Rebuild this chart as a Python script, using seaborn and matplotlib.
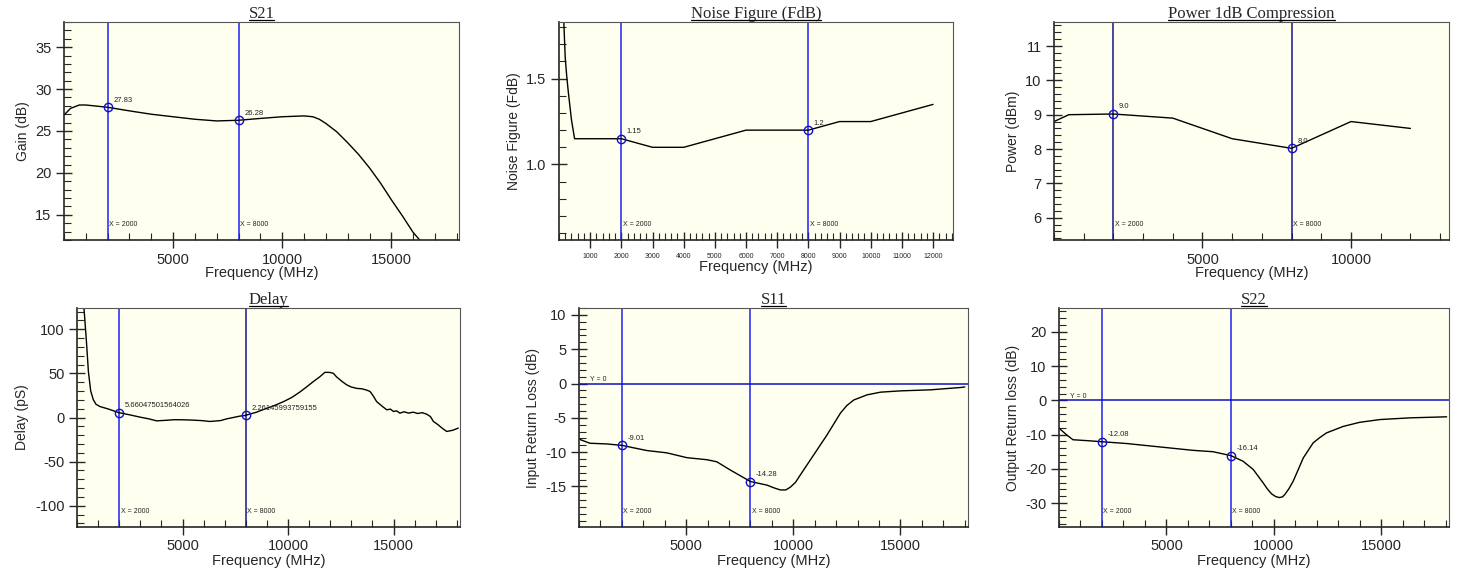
import numpy as np
import pandas as pd
import seaborn as sns
import matplotlib.pyplot as plt
from matplotlib.lines import Line2D
from matplotlib.ticker import MultipleLocator, FixedLocator

OUT_PATH = 'out.png'

# --- S21 gain (dB) ---
s21_freq = [0, 300, 700, 1000, 2000, 3000, 4000, 5000, 6000, 7000, 8000, 9000,
            10000, 11000, 11400, 11700, 12000, 12500, 13000, 13500, 14000, 14500, 15000,
            15500, 16000, 16300]
s21_gain = [26.9, 27.7, 28.1, 28.1, 27.83, 27.4, 27.0, 26.7, 26.4, 26.2, 26.28, 26.5,
            26.7, 26.8, 26.7, 26.4, 25.9, 24.9, 23.6, 22.2, 20.6, 18.8, 16.8,
            14.9, 12.9, 12.0]

# --- Noise figure (FdB) ---
nf_freq = [100, 150, 200, 250, 300, 400, 500, 2000, 3000, 4000, 5000, 6000, 7000,
           8000, 9000, 10000, 11000, 12000]
nf_val = [2.3, 1.85, 1.62, 1.51, 1.42, 1.26, 1.15, 1.15, 1.10, 1.10, 1.15, 1.20, 1.20,
          1.20, 1.25, 1.25, 1.30, 1.35]

# --- Power 1dB compression (dBm) ---
p1_freq = [0, 500, 2000, 4000, 6000, 8000, 10000, 12000]
p1_val = [8.8, 9.0, 9.02, 8.9, 8.3, 8.02, 8.8, 8.6]

# --- Group delay (pS) ---
dl_freq = [330, 450, 540, 650, 775, 900, 1090, 1500, 1960, 2500, 2990, 3400, 3775, 4200,
           4600, 5040, 5500, 5900, 6300, 6800, 7100, 7410, 7700, 7960, 8500, 9000,
           9400, 9790, 10200, 10570, 10900, 11200, 11500, 11750, 11990, 12150, 12300,
           12550, 12780, 13000, 13250, 13500, 13730, 13890, 14050, 14200, 14450,
           14680, 14850, 15000, 15150, 15300, 15500, 15700, 15940, 16150, 16350,
           16570, 16750, 16890, 17100, 17300, 17520, 17800, 18070]
dl_val = [124, 85, 52, 30, 20, 15, 12.4, 9.5, 5.66, 3.0, 0.4, -1.5, -3.8, -3.2,
          -2.5, -2.6, -3.0, -3.5, -4.5, -3.5, -1.5, 0.0, 1.5, 2.26, 6.0, 10.5,
          14.0, 18.0, 23.0, 29.0, 35.0, 40.7, 46.0, 51.2, 51.0, 50.0, 46.0,
          41.0, 37.0, 34.5, 33.0, 32.5, 31.0, 29.4, 24.0, 18.0, 13.0,
          8.7, 9.5, 6.8, 7.5, 4.9, 6.5, 5.0, 6.0, 4.5, 5.5,
          3.8, 1.0, -4.5, -8.0, -12.0, -15.8, -14.5, -12.0]

# --- S11 input return loss (dB) ---
s11_freq = [0, 510, 1290, 2000, 3160, 4100, 5030, 5970, 6430, 7060, 8000, 8770, 9100,
            9390, 9650, 9860, 10100, 10330, 10950, 11570, 12200, 12500, 12820, 13440,
            14070, 15000, 16400, 17800, 18000]
s11_val = [-8.1, -8.7, -8.8, -9.01, -9.76, -10.1, -10.8, -11.1, -11.4, -12.6, -14.28,
           -14.8, -15.2, -15.5, -15.5, -15.1, -14.4, -13.3, -10.4, -7.5, -4.3, -3.2,
           -2.4, -1.65, -1.26, -1.07, -0.92, -0.58, -0.5]

# --- S22 output return loss (dB) ---
s22_freq = [0, 340, 650, 1270, 2000, 3140, 4690, 6240, 7170, 8000, 8570, 9040, 9500,
            9700, 9890, 10080, 10250, 10400, 10510, 10700, 10900, 11370, 11830, 12150,
            12450, 13230, 14000, 14940, 16340, 18040]
s22_val = [-8.1, -10.0, -11.5, -11.75, -12.08, -12.6, -13.6, -14.6, -15.0, -16.14,
           -17.8, -20.2, -24.1, -25.9, -27.3, -28.1, -28.4, -28.2, -27.5, -25.8, -23.6,
           -16.8, -12.4, -10.8, -9.5, -7.6, -6.4, -5.6, -5.1, -4.8]

marker_x = [2000, 8000]
marker_labels = {
    'S21': ['27.83', '26.28'],
    'NF': ['1.15', '1.2'],
    'P1': ['9.0', '8.0'],
    'DL': ['5.66047501564026', '2.26145993759155'],
    'S11': ['-9.01', '-14.28'],
    'S22': ['-12.08', '-16.14'],
}

sns.set_style('ticks')
plt.rcParams['font.family'] = ['Liberation Sans', 'DejaVu Sans']
plt.rcParams['axes.unicode_minus'] = False

W, H = 1458, 573
fig = plt.figure(figsize=(W / 100, H / 100), dpi=100)
titles = []


def box(l, r, t, b):
    return [l / W, 1 - b / H, (r - l) / W, (b - t) / H]


def make_panel(rect, title, freq, vals, xlim, ylim, xmaj, xmin_step, ymaj, ymin_step,
               ylabel, labels, line_colors, zero_line=False, xtick_size=10.5):
    ax = fig.add_axes(rect)
    ax.set_facecolor('#fffff0')
    df = pd.DataFrame({'f': freq, 'v': vals})
    sns.lineplot(data=df, x='f', y='v', ax=ax, color='black', lw=1.0)
    ax.set_xlim(*xlim)
    ax.set_ylim(*ylim)
    ax.xaxis.set_major_locator(FixedLocator(xmaj))
    ax.xaxis.set_minor_locator(MultipleLocator(xmin_step))
    ax.yaxis.set_major_locator(FixedLocator(ymaj))
    ax.yaxis.set_minor_locator(MultipleLocator(ymin_step))
    ax.tick_params(which='major', direction='inout', length=11, width=1, labelsize=10.5)
    ax.tick_params(which='minor', direction='in', length=5, width=0.8)
    ax.tick_params(axis='x', which='major', labelsize=xtick_size)
    t = ax.set_title(title, fontsize=12, pad=3, family='Liberation Serif')
    titles.append(t)
    ax.set_xlabel('Frequency (MHz)', fontsize=10.5, labelpad=0)
    ax.set_ylabel(ylabel, fontsize=10)
    for s in ['top', 'right']:
        ax.spines[s].set_color('#555555')
    for s in ['left', 'bottom']:
        ax.spines[s].set_linewidth(1.2)

    y0, y1 = ylim
    for mx, lab, c in zip(marker_x, labels, line_colors):
        ax.axvline(mx, color=c, lw=1.1, zorder=1)
        my = np.interp(mx, freq, vals)
        ax.plot([mx], [my], marker='o', ms=6, mfc='none', mec='#1010c0', mew=1.0, zorder=5)
        ax.annotate(lab, (mx, my), xytext=(4, 4), textcoords='offset points',
                    fontsize=5.5, color='#222222')
        ax.annotate(f'X = {mx}', (mx, y0), xytext=(1, 10), textcoords='offset points',
                    fontsize=5, color='#222222')
    if zero_line:
        ax.axhline(0, color='#1010c0', lw=1.1, zorder=1)
        ax.annotate('Y = 0', (xlim[0], 0), xytext=(8, 2), textcoords='offset points',
                    fontsize=5, color='#222222')
    return ax


blue = '#2020f0'
dark = '#15158a'

make_panel(box(64, 459, 22, 240), 'S21', s21_freq, s21_gain,
           (0, 18100), (12, 38), [5000, 10000, 15000], 1000,
           [15, 20, 25, 30, 35], 1, 'Gain (dB)', marker_labels['S21'], [blue, blue])

make_panel(box(559, 953, 22, 240), 'Noise Figure (FdB)', nf_freq, nf_val,
           (0, 12640), (0.56, 1.83), list(range(1000, 12001, 1000)), 200,
           [1.0, 1.5], 0.1, 'Noise Figure (FdB)', marker_labels['NF'], [blue, blue],
           xtick_size=5)

make_panel(box(1054, 1449, 22, 240), 'Power 1dB Compression', p1_freq, p1_val,
           (0, 13300), (5.35, 11.7), [5000, 10000], 1000,
           [6, 7, 8, 9, 10, 11], 0.2, 'Power (dBm)', marker_labels['P1'], [dark, dark])

make_panel(box(77, 460, 308, 527), 'Delay', dl_freq, dl_val,
           (0, 18150), (-124, 124), [5000, 10000, 15000], 1000,
           [-100, -50, 0, 50, 100], 10, 'Delay (pS)', marker_labels['DL'], [blue, dark])

make_panel(box(579, 968, 308, 527), 'S11', s11_freq, s11_val,
           (0, 18150), (-20.9, 11), [5000, 10000, 15000], 1000,
           [-15, -10, -5, 0, 5, 10], 1, 'Input Return Loss (dB)', marker_labels['S11'],
           [blue, blue], zero_line=True)

make_panel(box(1059, 1449, 308, 527), 'S22', s22_freq, s22_val,
           (0, 18150), (-37, 27), [5000, 10000, 15000], 1000,
           [-30, -20, -10, 0, 10, 20], 2, 'Output Return loss (dB)', marker_labels['S22'],
           [blue, blue], zero_line=True)

# underline the titles
fig.canvas.draw()
renderer = fig.canvas.get_renderer()
for t in titles:
    bb = t.get_window_extent(renderer).transformed(fig.transFigure.inverted())
    yline = bb.y0 + 2 / H
    fig.add_artist(Line2D([bb.x0, bb.x1], [yline, yline], color='black', lw=0.9))

fig.savefig(OUT_PATH, dpi=100)
print(f'saved {OUT_PATH}')
